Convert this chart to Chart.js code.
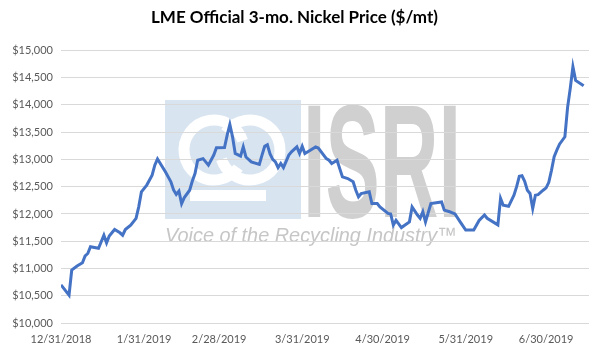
<!DOCTYPE html>
<html><head><meta charset="utf-8">
<script src="https://cdn.jsdelivr.net/npm/chart.js@4"></script>
<style>html,body{margin:0;padding:0;background:#fff}#wrap{width:600px;height:356px;position:relative}</style>
</head><body><div id="wrap"><canvas id="c"></canvas></div>
<script>
const chartTitle = 'LME Official 3-mo. Nickel Price ($/mt)';
const dates = [
 '2018-12-31','2019-01-03','2019-01-04','2019-01-06','2019-01-08','2019-01-09','2019-01-10','2019-01-11',
 '2019-01-14','2019-01-16','2019-01-17','2019-01-18','2019-01-20','2019-01-22','2019-01-23','2019-01-24',
 '2019-01-26','2019-01-28','2019-01-29','2019-01-30','2019-02-01','2019-02-03','2019-02-04','2019-02-05',
 '2019-02-08','2019-02-10','2019-02-11','2019-02-12','2019-02-13','2019-02-14','2019-02-15','2019-02-17',
 '2019-02-18','2019-02-19','2019-02-20','2019-02-22','2019-02-24','2019-02-26','2019-02-27','2019-03-02',
 '2019-03-03','2019-03-04','2019-03-05','2019-03-06','2019-03-08','2019-03-09','2019-03-10','2019-03-12',
 '2019-03-15','2019-03-16','2019-03-17','2019-03-18','2019-03-19','2019-03-20','2019-03-21','2019-03-22',
 '2019-03-23','2019-03-24','2019-03-26','2019-03-27','2019-03-29','2019-03-30','2019-03-31','2019-04-01',
 '2019-04-03','2019-04-05','2019-04-06','2019-04-09','2019-04-10','2019-04-11','2019-04-13','2019-04-15',
 '2019-04-17','2019-04-19','2019-04-20','2019-04-21','2019-04-22','2019-04-25','2019-04-26','2019-04-28',
 '2019-04-29','2019-05-02','2019-05-03','2019-05-04','2019-05-05','2019-05-07','2019-05-10','2019-05-11',
 '2019-05-13','2019-05-14','2019-05-15','2019-05-16','2019-05-18','2019-05-20','2019-05-22','2019-05-23',
 '2019-05-25','2019-05-27','2019-05-29','2019-05-31','2019-06-03','2019-06-05','2019-06-07','2019-06-08',
 '2019-06-12','2019-06-13','2019-06-14','2019-06-16','2019-06-18','2019-06-19','2019-06-20','2019-06-21',
 '2019-06-22','2019-06-23','2019-06-24','2019-06-25','2019-06-26','2019-06-27','2019-06-29','2019-06-30',
 '2019-07-01','2019-07-02','2019-07-03','2019-07-04','2019-07-05','2019-07-07','2019-07-08','2019-07-09',
 '2019-07-10','2019-07-11','2019-07-14'
];
const prices = [
 10700,10510,10970,11045,11105,11230,11275,11400,
 11370,11610,11470,11595,11715,11655,11610,11715,
 11795,11920,12130,12405,12530,12710,12895,13010,
 12770,12590,12440,12360,12420,12190,12300,12435,
 12605,12740,12985,13015,12895,13080,13215,13220,
 13445,13640,13415,13110,13060,13230,13045,12955,
 12910,13080,13240,13270,13100,13000,12955,12850,
 12925,12850,13080,13140,13230,13110,13240,13110,
 13170,13230,13210,13015,12985,12925,12985,12680,
 12650,12590,12435,12315,12375,12405,12190,12190,
 12130,12010,12000,11795,11885,11750,11855,12130,
 11980,11920,12040,11855,12190,12205,12220,12070,
 12040,12000,11850,11705,11705,11880,11980,11920,
 11800,12285,12160,12140,12345,12500,12690,12700,
 12600,12435,12375,12100,12345,12355,12440,12480,
 12580,12800,13050,13170,13280,13415,13950,14300,
 14700,14450,14350
];
const tickDates = ['2018-12-31','2019-01-31','2019-02-28','2019-03-31','2019-04-30','2019-05-31','2019-06-30'];
const axisStart = '2018-12-31';
const axisEnd = '2019-07-16';
const yMin = 10000, yMax = 15000, yStep = 500;

function s0(){const p=axisStart.split('-').map(Number);return Date.UTC(p[0],p[1]-1,p[2]);}
function dayNum(s){const p=s.split('-').map(Number);return (Date.UTC(p[0],p[1]-1,p[2])-s0())/864e5;}
function fmtDate(d){const t=new Date(s0()+d*864e5);return (t.getUTCMonth()+1)+'/'+t.getUTCDate()+'/'+t.getUTCFullYear();}

const points = dates.map((d,i)=>({x:dayNum(d),y:prices[i]}));
const tickDays = tickDates.map(dayNum);

const watermark = {
  id:'watermark',
  beforeDraw(chart){
    const ctx = chart.ctx;
    ctx.save();
    ctx.fillStyle='#ffffff';ctx.fillRect(0,0,chart.width,chart.height);
    ctx.fillStyle='#d9e4f1';
    ctx.fillRect(165,100,136,119);
    ctx.strokeStyle='#ffffff';ctx.lineWidth=11;
    ctx.beginPath();ctx.arc(214,150,30,0.2*Math.PI,1.9*Math.PI);ctx.stroke();
    ctx.beginPath();ctx.arc(250,150,30,1.2*Math.PI,0.9*Math.PI);ctx.stroke();
    ctx.fillStyle='#ffffff';ctx.fillRect(190,190,76,11);
    ctx.fillStyle='#d0d0d0';
    ctx.font='bold 162px "Liberation Sans"';
    ctx.textBaseline='alphabetic';ctx.textAlign='left';
    ctx.fillText('ISRI',303,217,158);
    ctx.fillStyle='#c6c6c6';
    ctx.font='italic 21px "Liberation Sans"';
    ctx.fillText('Voice of the Recycling Industry\u2122',165,242,292);
    ctx.restore();
  }
};

new Chart(document.getElementById('c'),{
  type:'line',
  data:{datasets:[{data:points,borderColor:'#4472c4',borderWidth:3,pointRadius:0,tension:0,fill:false}]},
  options:{
    responsive:true,maintainAspectRatio:false,animation:false,
    layout:{padding:{left:0,right:11,top:0,bottom:0}},
    plugins:{
      legend:{display:false},tooltip:{enabled:false},
      title:{display:true,text:chartTitle,color:'#000000',font:{family:'Lato',size:17,weight:'bold'},padding:{top:7,bottom:23}}
    },
    scales:{
      x:{type:'linear',min:dayNum(axisStart),max:dayNum(axisEnd),
        afterBuildTicks(s){s.ticks=tickDays.map(v=>({value:v}));},
        afterFit(s){s.height=33;},
        grid:{display:false,drawTicks:false},border:{display:false},
        ticks:{autoSkip:false,maxRotation:0,padding:10,color:'#595959',font:{family:'Lato',size:11},callback:v=>fmtDate(v)}},
      y:{min:yMin,max:yMax,
        afterFit(s){s.width=61;},
        grid:{color:'#d9d9d9',lineWidth:1,drawTicks:false},border:{display:false},
        ticks:{stepSize:yStep,padding:8,color:'#595959',font:{family:'Lato',size:11},callback:v=>'$'+v.toLocaleString('en-US')}}
    }
  },
  plugins:[watermark]
});
</script></body></html>
